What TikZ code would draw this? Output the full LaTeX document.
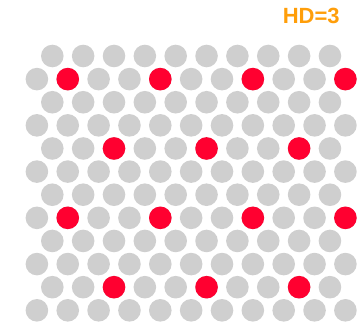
\documentclass[tikz,border=0pt]{standalone}
\usepackage{fontspec}
\setmainfont{Liberation Sans}
\definecolor{dot_gray}{HTML}{CFCFCF}
\definecolor{dot_red}{HTML}{FF0030}
\definecolor{hd_orange}{HTML}{FF9E0A}

\begin{document}
\begin{tikzpicture}[
    x=1pt, y=-1pt,
    dot/.style={fill=dot_gray},
    hit/.style={fill=dot_red}
]
\useasboundingbox (0, 0) rectangle (362, 323);

%% ---- Gitter: gerade Zeilen (10 Punkte) ----
\foreach \r in {0, 2, ..., 10} {
    \foreach \c in {0, ..., 9} {
        \fill[dot] (52.3+30.85*\c, 56+23.12*\r) circle[radius=11.3pt];
    }
}
%% ---- Gitter: ungerade Zeilen (11 Punkte, versetzt) ----
\foreach \r in {1, 3, ..., 11} {
    \foreach \c in {0, ..., 10} {
        \fill[dot] (36.9+30.85*\c, 56+23.12*\r) circle[radius=11.3pt];
    }
}

%% ---- Markierte Punkte ----
\foreach \r in {1, 7} {
    \foreach \c in {1, 4, 7, 10} {
        \fill[hit] (36.9+30.85*\c, 56+23.12*\r) circle[radius=11.3pt];
    }
}
\foreach \r in {4, 10} {
    \foreach \c in {2, 5, 8} {
        \fill[hit] (52.3+30.85*\c, 56+23.12*\r) circle[radius=11.3pt];
    }
}

%% ---- Beschriftung ----
\node[font=\bfseries\fontsize{22}{22}\selectfont, text=hd_orange, inner sep=0pt]
    (hd) at (311.2, 16.2) {HD=3};

\end{tikzpicture}
\end{document}
